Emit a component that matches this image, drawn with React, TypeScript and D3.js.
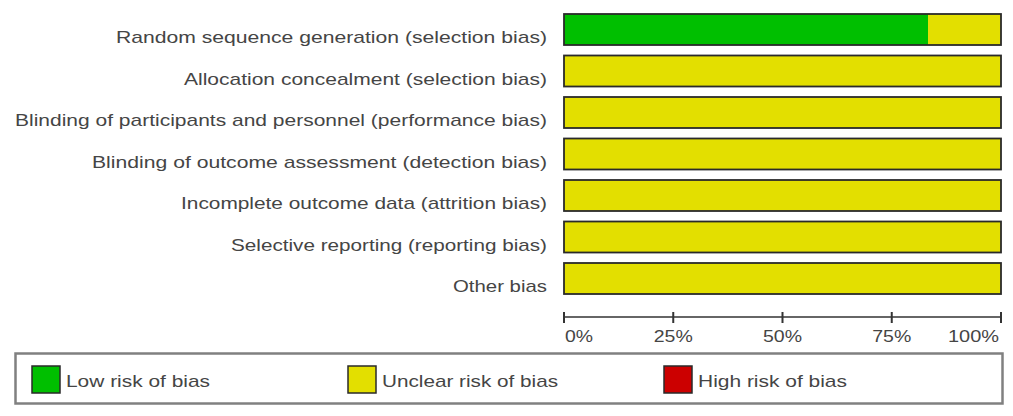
import React from "react";
import * as d3 from "d3";

const categories = [
  "Random sequence generation (selection bias)",
  "Allocation concealment (selection bias)",
  "Blinding of participants and personnel (performance bias)",
  "Blinding of outcome assessment (detection bias)",
  "Incomplete outcome data (attrition bias)",
  "Selective reporting (reporting bias)",
  "Other bias",
];
const lowRisk = [83.3, 0, 0, 0, 0, 0, 0];
const unclearRisk = [16.7, 100, 100, 100, 100, 100, 100];
const highRisk = [0, 0, 0, 0, 0, 0, 0];
const tickValues = [0, 25, 50, 75, 100];
const tickLabels = ["0%", "25%", "50%", "75%", "100%"];
const legendLabels = ["Low risk of bias", "Unclear risk of bias", "High risk of bias"];
const seriesColors = ["#00bf00", "#e3df00", "#cc0000"];

// approximate rendered widths (text is horizontally stretched in the reference)
const labelWidths = [431, 363, 532, 455, 366, 316, 94];
const legendWidths = [144, 176, 149];
const legendX = [32, 348, 664];

export default function App() {
  const W = 1013;
  const H = 416;
  const x = d3.scaleLinear().domain([0, 100]).range([564, 1001]);
  const y = d3
    .scaleBand<string>()
    .domain(categories)
    .range([8.75, 299.25])
    .paddingInner(0.253)
    .paddingOuter(0.1265);

  const stack = d3
    .stack<any>()
    .keys(["low", "unclear", "high"])(
      categories.map((c, i) => ({ cat: c, low: lowRisk[i], unclear: unclearRisk[i], high: highRisk[i] }))
    );

  const axisY = 317;
  const textColor = "#454545";
  const font = "'Liberation Sans', Arial, sans-serif";

  return (
    <svg
      width={W}
      height={H}
      style={{ position: "absolute", left: 0, top: 0, background: "#fff" }}
      fontFamily={font}
    >
      {categories.map((c, i) => (
        <text
          key={c}
          x={547}
          y={(y(c) as number) + y.bandwidth() - 2}
          textAnchor="end"
          fontSize={17}
          fill={textColor}
          textLength={labelWidths[i]}
          lengthAdjust="spacingAndGlyphs"
        >
          {c}
        </text>
      ))}
      {stack.map((layer, k) =>
        layer.map((d, i) =>
          d[1] - d[0] > 0 ? (
            <rect
              key={`${k}-${i}`}
              x={x(d[0])}
              y={y(categories[i])}
              width={x(d[1]) - x(d[0])}
              height={y.bandwidth()}
              fill={seriesColors[k]}
            />
          ) : null
        )
      )}
      {categories.map((c) => (
        <rect
          key={"b" + c}
          x={x(0)}
          y={y(c)}
          width={x(100) - x(0)}
          height={y.bandwidth()}
          fill="none"
          stroke="#2a2a2a"
          strokeWidth={1.8}
        />
      ))}
      <line x1={x(0)} x2={x(100)} y1={axisY} y2={axisY} stroke="#333" strokeWidth={1.3} />
      {tickValues.map((t, i) => (
        <g key={t}>
          <line x1={x(t)} x2={x(t)} y1={axisY - 5} y2={axisY + 6} stroke="#333" strokeWidth={2} />
          <text
            x={i === 0 ? x(t) + 1 : i === tickValues.length - 1 ? x(t) - 2 : x(t)}
            y={342}
            fontSize={17}
            fill={textColor}
            textAnchor={i === 0 ? "start" : i === tickValues.length - 1 ? "end" : "middle"}
            textLength={i === 4 ? 51 : i === 0 ? 28 : 39}
            lengthAdjust="spacingAndGlyphs"
          >
            {tickLabels[i]}
          </text>
        </g>
      ))}
      <rect x={15.5} y={353.5} width={987} height={50} fill="none" stroke="#808080" strokeWidth={2.5} />
      {legendLabels.map((l, i) => (
        <g key={l}>
          <rect x={legendX[i]} y={366} width={28} height={27} fill={seriesColors[i]} stroke="#2a2a2a" strokeWidth={1.5} />
          <text
            x={legendX[i] + 34}
            y={387}
            fontSize={17}
            fill={textColor}
            textLength={legendWidths[i]}
            lengthAdjust="spacingAndGlyphs"
          >
            {l}
          </text>
        </g>
      ))}
    </svg>
  );
}
